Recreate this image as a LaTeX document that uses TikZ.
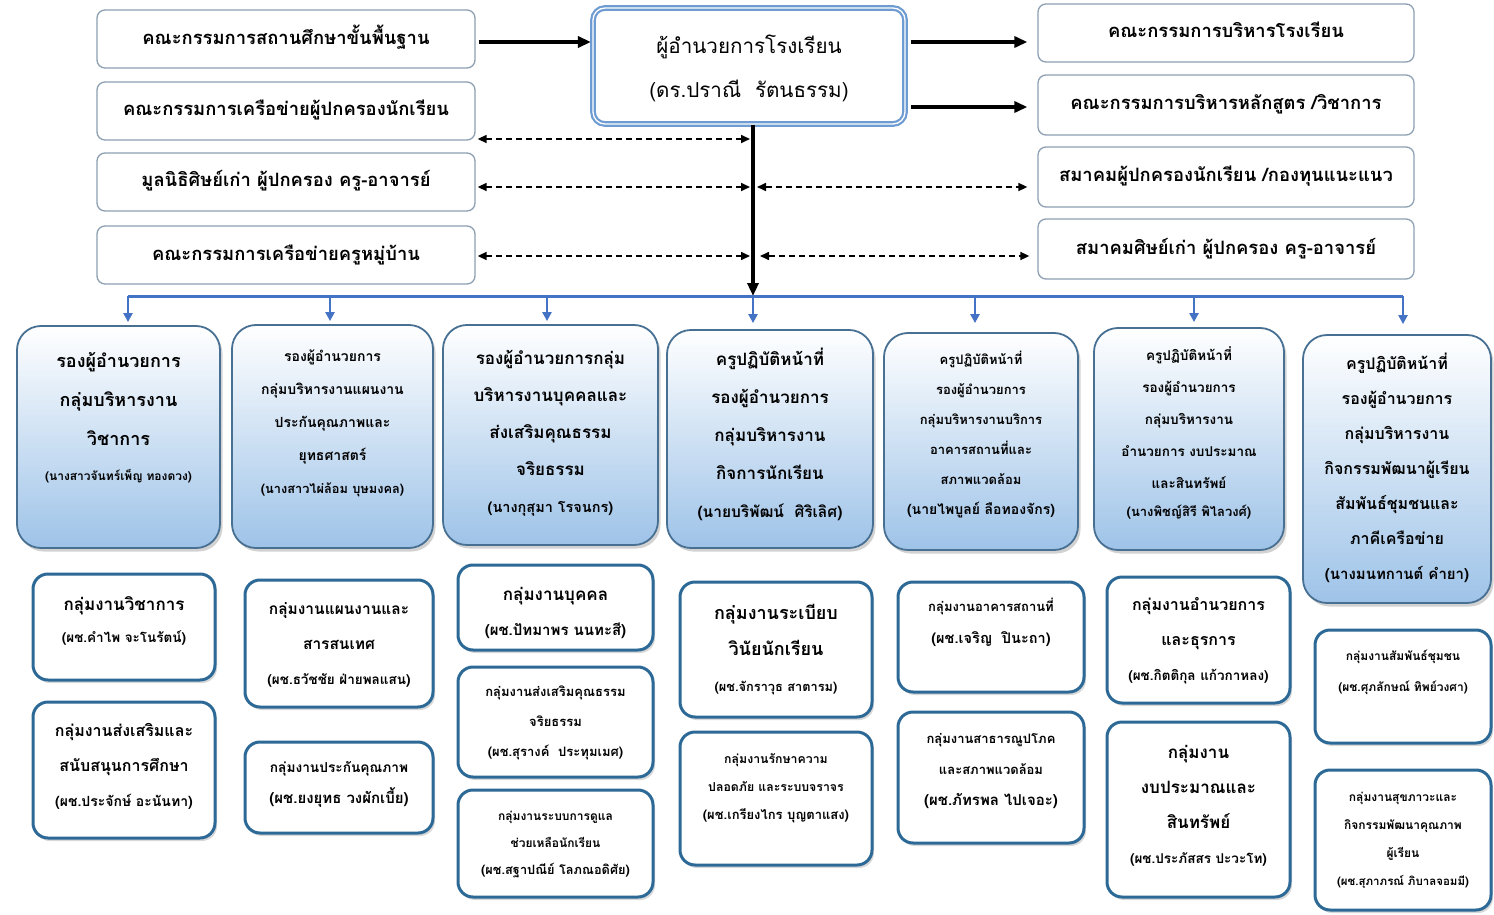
\documentclass[tikz,border=0pt]{standalone}
\usepackage{fontspec}
\newfontfamily\thai[Script=Thai]{Loma}
\usetikzlibrary{arrows.meta,shadows,backgrounds}
\definecolor{topgray}{RGB}{140,160,178}
\definecolor{dirblue}{RGB}{110,155,210}
\definecolor{hdborder}{RGB}{72,112,146}
\definecolor{hdblue}{RGB}{158,195,232}
\definecolor{sbborder}{RGB}{45,105,150}
\definecolor{colln}{RGB}{60,100,140}
\definecolor{busblue}{RGB}{68,114,196}
\newcommand\fz[2]{\fontsize{#1}{#2}\selectfont}
\newcommand\tbox[8]{\node[#1] (#2) at ({(#3+#5)/2},{(#4+#6)/2}) {\parbox[c][\dimexpr#6pt-#4pt\relax][t]{\dimexpr#5pt-#3pt\relax}{\centering\rule{0pt}{#7pt}#8\par}};}
\tikzset{
  topbox/.style={draw=topgray, line width=1.3pt, rounded corners=8pt, fill=white, inner sep=0pt, font=\thai\bfseries\fz{18.4}{20}},
  dirbox/.style={draw=dirblue, double=white, double distance=1.3pt, line width=2.2pt, rounded corners=12pt, fill=white, inner sep=0pt, font=\thai\fz{20.6}{44}},
  headbox/.style={draw=hdborder, line width=1.8pt, rounded corners=24pt, top color=white, bottom color=hdblue, drop shadow={shadow xshift=2.5pt, shadow yshift=-3.5pt, fill=black!35}, inner sep=0pt, font=\thai\bfseries},
  subbox/.style={draw=sbborder, line width=3pt, rounded corners=15pt, fill=white, drop shadow={shadow xshift=2pt, shadow yshift=-3pt, fill=black!30}, inner sep=0pt, font=\thai\bfseries},
  bigarrow/.style={draw=black, line width=3.5pt, -{Triangle[length=13pt,width=11pt]}},
  dasharrow/.style={draw=black, line width=1.6pt, dash pattern=on 6pt off 4pt, {Triangle[length=9pt,width=8pt]}-{Triangle[length=9pt,width=8pt]}},
  busline/.style={draw=busblue, line width=3pt},
  busarrow/.style={draw=busblue, line width=2.2pt, -{Triangle[length=9pt,width=9pt]}},
  colline/.style={draw=colln, line width=1.3pt},
  colarrow/.style={draw=colln, line width=1.3pt, -{Triangle[length=7pt,width=6pt,color=black]}, shorten >=1.5pt},
}
\begin{document}
\begin{tikzpicture}[x=1pt,y=-1pt]
\fill[white] (0,0) rectangle (1494,915);
\useasboundingbox (0,0) rectangle (1494,915);
% top boxes
\tbox{topbox}{L1}{97}{10}{475}{68}{35}{คณะกรรมการสถานศึกษาขั้นพื้นฐาน}
\tbox{topbox}{L2}{97}{82}{475}{140}{34}{คณะกรรมการเครือข่ายผู้ปกครองนักเรียน}
\tbox{topbox}{L3}{97}{153}{475}{211}{34}{มูลนิธิศิษย์เก่า ผู้ปกครอง ครู-อาจารย์}
\tbox{topbox}{L4}{97}{226}{475}{284}{34}{คณะกรรมการเครือข่ายครูหมู่บ้าน}
\tbox{dirbox}{D}{593}{8}{905}{124}{46}{ผู้อำนวยการโรงเรียน\\(ดร.ปราณี\ \ รัตนธรรม)}
\tbox{topbox}{R1}{1038}{4}{1414}{62}{34}{คณะกรรมการบริหารโรงเรียน}
\tbox{topbox}{R2}{1038}{75}{1414}{135}{35}{คณะกรรมการบริหารหลักสูตร /วิชาการ}
\tbox{topbox}{R3}{1038}{147}{1414}{207}{35}{สมาคมผู้ปกครองนักเรียน /กองทุนแนะแนว}
\tbox{topbox}{R4}{1038}{219}{1414}{279}{35}{สมาคมศิษย์เก่า ผู้ปกครอง ครู-อาจารย์}
% header boxes
\tbox{headbox}{H1}{17}{326}{220}{548}{41}{\fz{18}{39}รองผู้อำนวยการ\\กลุ่มบริหารงาน\\วิชาการ\\[-4pt]{\fz{12}{12}(นางสาวจันทร์เพ็ญ ทองดวง)}}
\tbox{headbox}{H2}{232}{325}{433}{548}{36.5}{\fz{14}{33}รองผู้อำนวยการ\\กลุ่มบริหารงานแผนงาน\\ประกันคุณภาพและ\\ยุทธศาสตร์\\{\fz{12.8}{12}(นางสาวไผ่ล้อม บุษมงคล)}}
\tbox{headbox}{H3}{443}{325}{658}{545}{39}{\fz{17}{37}รองผู้อำนวยการกลุ่ม\\บริหารงานบุคคลและ\\ส่งเสริมคุณธรรม\\จริยธรรม\\{\fz{14.5}{13}(นางกุสุมา โรจนกร)}}
\tbox{headbox}{H4}{667}{330}{873}{548}{35}{\fz{17}{38}ครูปฏิบัติหน้าที่\\รองผู้อำนวยการ\\กลุ่มบริหารงาน\\กิจการนักเรียน\\{\fz{15.5}{13}(นายบริพัฒน์\ \ ศิริเลิศ)}}
\tbox{headbox}{H5}{884}{333}{1078}{550}{31}{\fz{13}{30}ครูปฏิบัติหน้าที่\\รองผู้อำนวยการ\\กลุ่มบริหารงานบริการ\\อาคารสถานที่และ\\สภาพแวดล้อม\\{\fz{14}{12}(นายไพบูลย์ ลือทองจักร)}}
\tbox{headbox}{H6}{1094}{328}{1284}{550}{32}{\fz{13.5}{32}ครูปฏิบัติหน้าที่\\รองผู้อำนวยการ\\กลุ่มบริหารงาน\\อำนวยการ งบประมาณ\\และสินทรัพย์\\[-4pt]{\fz{13}{11}(นางพิชญ์สิรี พิไลวงศ์)}}
\tbox{headbox}{H7}{1303}{335}{1491}{603}{34}{\fz{16}{35}ครูปฏิบัติหน้าที่\\รองผู้อำนวยการ\\กลุ่มบริหารงาน\\กิจกรรมพัฒนาผู้เรียน\\สัมพันธ์ชุมชนและ\\ภาคีเครือข่าย\\{\fz{15}{12}(นางมนทกานต์ คำยา)}}
% sub boxes
\tbox{subbox}{S1a}{33}{574}{215}{680}{36}{\fz{17}{32}กลุ่มงานวิชาการ\\{\fz{13.5}{12}(ผช.คำไพ จะโนรัตน์)}}
\tbox{subbox}{S1b}{33}{702}{215}{838}{34.5}{\fz{16}{35}กลุ่มงานส่งเสริมและ\\สนับสนุนการศึกษา\\{\fz{14}{12}(ผช.ประจักษ์ อะนันทา)}}
\tbox{subbox}{S2a}{245}{580}{433}{707}{34}{\fz{15.5}{35}กลุ่มงานแผนงานและ\\สารสนเทศ\\{\fz{13.5}{12}(ผช.ธวัชชัย ฝ่ายพลแสน)}}
\tbox{subbox}{S2b}{245}{742}{433}{833}{30.6}{\fz{13.7}{31}กลุ่มงานประกันคุณภาพ\\{\fz{15}{12}(ผช.ยงยุทธ วงผักเบี้ย)}}
\tbox{subbox}{S3a}{458}{565}{653}{650}{35}{\fz{17}{35}กลุ่มงานบุคคล\\{\fz{15}{12}(ผช.ปัทมาพร นนทะสี)}}
\tbox{subbox}{S3b}{458}{667}{653}{777}{29.6}{\fz{13}{30}กลุ่มงานส่งเสริมคุณธรรม\\จริยธรรม\\{\fz{13}{11}(ผช.สุรางค์\ \ ประทุมเมศ)}}
\tbox{subbox}{S3c}{458}{790}{653}{897}{30.4}{\fz{12}{27}กลุ่มงานระบบการดูแล\\ช่วยเหลือนักเรียน\\{\fz{12.8}{11}(ผช.สฐาปณีย์ โลภณอดิศัย)}}
\tbox{subbox}{S4a}{680}{582}{872}{717}{37}{\fz{18}{36}กลุ่มงานระเบียบ\\วินัยนักเรียน\\{\fz{12.8}{12}(ผช.จักราวุธ สาตารม)}}
\tbox{subbox}{S4b}{680}{732}{872}{865}{31.4}{\fz{12.3}{28}กลุ่มงานรักษาความ\\ปลอดภัย และระบบจราจร\\{\fz{13}{11}(ผช.เกรียงไกร บุญตาแสง)}}
\tbox{subbox}{S5a}{898}{582}{1084}{692}{29.5}{\fz{13}{32}กลุ่มงานอาคารสถานที่\\{\fz{14.5}{12}(ผช.เจริญ\ \ ปินะถา)}}
\tbox{subbox}{S5b}{898}{712}{1084}{843}{31.6}{\fz{13}{31}กลุ่มงานสาธารณูปโภค\\และสภาพแวดล้อม\\{\fz{15}{14}(ผช.ภัทรพล ไปเจอะ)}}
\tbox{subbox}{S6a}{1107}{577}{1290}{703}{33.5}{\fz{16}{35}กลุ่มงานอำนวยการ\\และธุรการ\\{\fz{13.5}{11}(ผช.กิตติกุล แก้วกาหลง)}}
\tbox{subbox}{S6b}{1107}{722}{1290}{897}{36.8}{\fz{17}{35}กลุ่มงาน\\งบประมาณและ\\สินทรัพย์\\{\fz{13.5}{11}(ผช.ประภัสสร ปะวะโท)}}
\tbox{subbox}{S7a}{1315}{630}{1491}{743}{30}{\fz{12}{31}กลุ่มงานสัมพันธ์ชุมชน\\{\fz{12}{10}(ผช.ศุภลักษณ์ ทิพย์วงศา)}}
\tbox{subbox}{S7b}{1315}{770}{1491}{910}{31}{\fz{12}{28}กลุ่มงานสุขภาวะและ\\กิจกรรมพัฒนาคุณภาพ\\ผู้เรียน\\{\fz{11.5}{10}(ผช.สุภาภรณ์ ภิบาลจอมมี)}}
% coordinates
\coordinate (b1) at (128,296);
\coordinate (b2) at (330,296);
\coordinate (b3) at (547,296);
\coordinate (b4) at (753,296);
\coordinate (b5) at (975,296);
\coordinate (b6) at (1194,296);
\coordinate (b7) at (1403,296);
\coordinate (v1) at (753,139);
\coordinate (v2) at (753,187);
\coordinate (v3) at (753,256);
\coordinate (c1) at (19,530);
\coordinate (c2) at (231,530);
\coordinate (c3) at (444,525);
\coordinate (c4) at (667,530);
\coordinate (c5) at (883,530);
\coordinate (c6) at (1095,530);
\coordinate (c7) at (1305,585);
% connectors
\draw[bigarrow, shorten <=3pt, shorten >=1pt] (L1.east |- 0,42) -- (D.west |- 0,42);
\draw[bigarrow, shorten <=5pt, shorten >=10pt] (D.east |- 0,42) -- (R1.west |- 0,42);
\draw[bigarrow, shorten <=5pt, shorten >=10pt] (D.east |- 0,107) -- (R2.west |- 0,107);
\draw[bigarrow, shorten >=0pt] (D.south -| b4) -- (b4);
\draw[dasharrow, shorten <=2pt, shorten >=3pt] (L2.east |- v1) -- (v1);
\draw[dasharrow, shorten <=2pt, shorten >=3pt] (L3.east |- v2) -- (v2);
\draw[dasharrow, shorten <=4pt, shorten >=10pt] (v2) -- (R3.west |- v2);
\draw[dasharrow, shorten <=2pt, shorten >=3pt] (L4.east |- v3) -- (v3);
\draw[dasharrow, shorten <=7pt, shorten >=8pt] (v3) -- (R4.west |- v3);
\draw[busline] (b1) -- (b7);
\draw[busarrow, shorten >=3pt] (b1) -- (H1.north -| b1);
\draw[busarrow, shorten >=3pt] (b2) -- (H2.north -| b2);
\draw[busarrow, shorten >=3pt] (b3) -- (H3.north -| b3);
\draw[busarrow, shorten >=6pt] (b4) -- (H4.north -| b4);
\draw[busarrow, shorten >=9pt] (b5) -- (H5.north -| b5);
\draw[busarrow, shorten >=5pt] (b6) -- (H6.north -| b6);
\draw[busarrow, shorten >=10pt] (b7) -- (H7.north -| b7);
\begin{scope}[on background layer]
\draw[colline] (c1) -- (c1 |- 0,768);
\draw[colarrow] (c1 |- 0,630) -- (S1a.west |- 0,630);
\draw[colarrow] (c1 |- 0,768) -- (S1b.west |- 0,768);
\draw[colline] (c2) -- (c2 |- 0,783);
\draw[colarrow] (c2 |- 0,645) -- (S2a.west |- 0,645);
\draw[colarrow] (c2 |- 0,783) -- (S2b.west |- 0,783);
\draw[colline] (c3) -- (c3 |- 0,842);
\draw[colarrow] (c3 |- 0,612) -- (S3a.west |- 0,612);
\draw[colarrow] (c3 |- 0,720) -- (S3b.west |- 0,720);
\draw[colarrow] (c3 |- 0,842) -- (S3c.west |- 0,842);
\draw[colline] (c4) -- (c4 |- 0,790);
\draw[colarrow] (c4 |- 0,648) -- (S4a.west |- 0,648);
\draw[colarrow] (c4 |- 0,790) -- (S4b.west |- 0,790);
\draw[colline] (c5) -- (c5 |- 0,750);
\draw[colarrow] (c5 |- 0,630) -- (S5a.west |- 0,630);
\draw[colarrow] (c5 |- 0,750) -- (S5b.west |- 0,750);
\draw[colline] (c6) -- (c6 |- 0,782);
\draw[colarrow] (c6 |- 0,637) -- (S6a.west |- 0,637);
\draw[colarrow] (c6 |- 0,782) -- (S6b.west |- 0,782);
\draw[colline] (c7) -- (c7 |- 0,787);
\draw[colarrow] (c7 |- 0,642) -- (S7a.west |- 0,642);
\draw[colarrow] (c7 |- 0,787) -- (S7b.west |- 0,787);
\end{scope}
\end{tikzpicture}
\end{document}
